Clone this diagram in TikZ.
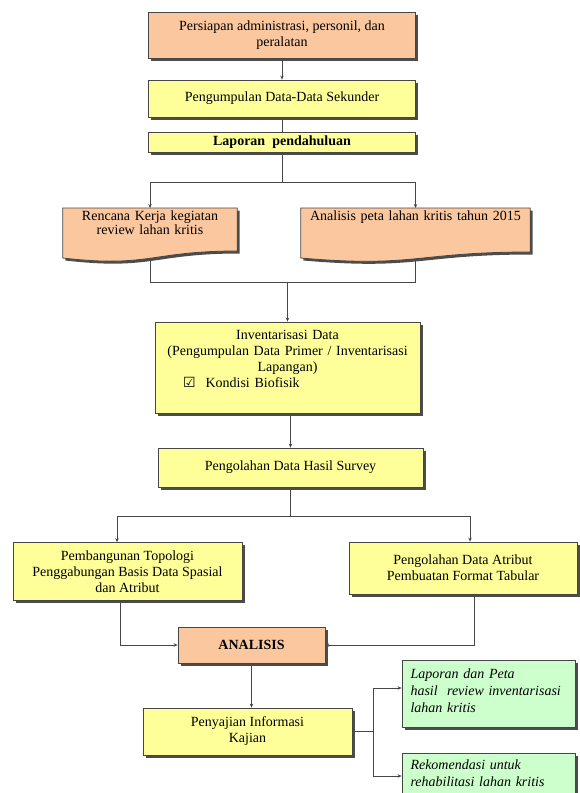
\documentclass[tikz,border=0pt]{standalone}
\usepackage{fontspec}
\setmainfont{Liberation Serif}
\newfontfamily\symfont{DejaVu Sans}
\usetikzlibrary{calc,shadows,arrows.meta}
\pgfdeclarelayer{edgelayer}
\pgfdeclarelayer{shapelayer}
\pgfdeclarelayer{nodelayer}
\pgfsetlayers{edgelayer,shapelayer,nodelayer,main}
\definecolor{peach}{RGB}{250,199,158}
\definecolor{lemon}{RGB}{255,255,153}
\definecolor{mint}{RGB}{204,255,204}
\definecolor{rim}{RGB}{70,70,70}
\tikzstyle{edge}=[draw=rim, line width=0.8pt]
\tikzstyle{arrow}=[edge, -{Stealth[length=4pt,width=3.5pt]}]
\tikzstyle{shade}=[drop shadow={shadow xshift=2.5pt, shadow yshift=-2.5pt, fill=black!70, opacity=1}]
\tikzstyle{box}=[rectangle, draw=rim, line width=0.8pt, align=center, inner sep=2pt, font=\fontsize{14}{16}\selectfont, shade]
\tikzstyle{orangebox}=[box, fill=peach]
\tikzstyle{yellowbox}=[box, fill=lemon]
\tikzstyle{greenbox}=[box, fill=mint, align=left, inner xsep=8.5pt, text width=156pt, font=\itshape\fontsize{14}{17}\selectfont]
\tikzstyle{doctext}=[inner xsep=4pt, inner ysep=3pt, align=center, anchor=north, font=\fontsize{14}{13.5}\selectfont]
\tikzstyle{docshape}=[draw=rim, line width=0.8pt, fill=peach, shade]

\begin{document}
\begin{tikzpicture}[x=1pt, y=-1pt]
	\useasboundingbox (0,0) rectangle (580,793);
	\begin{pgfonlayer}{nodelayer}
		\node [style=orangebox, minimum width=267pt, minimum height=46pt] (0) at (282, 35) {Persiapan administrasi, personil, dan\\peralatan};
		\node [style=yellowbox, minimum width=267pt, minimum height=37pt] (1) at (282, 98.5) {Pengumpulan Data-Data Sekunder};
		\node [style=yellowbox, minimum width=267pt, minimum height=20pt, font=\bfseries\fontsize{14}{16}\selectfont] (2) at (282, 142) {Laporan~ pendahuluan};
		\node [style=doctext, text width=166pt] (3) at (150, 208) {Rencana Kerja kegiatan\\review lahan kritis};
		\node [style=doctext, text width=221pt] (4) at (415.5, 208) {Analisis peta lahan kritis tahun 2015};
		\node [style=yellowbox, minimum width=265pt, minimum height=91pt, text width=255pt] (5) at (287.5, 367.5) {Inventarisasi Data\\(Pengumpulan Data Primer / Inventarisasi\\Lapangan)\par\hbox to 255pt{\hspace*{23pt}{\symfont ☑}\hspace{10pt}Kondisi Biofisik\rule[-18pt]{0pt}{18pt}\hfil}};
		\node [style=yellowbox, minimum width=265pt, minimum height=39pt] (6) at (290.5, 467.5) {Pengolahan Data Hasil Survey};
		\node [style=yellowbox, minimum width=229pt, minimum height=58pt] (7) at (127.5, 571.5) {Pembangunan Topologi\\Penggabungan Basis Data Spasial\\dan Atribut};
		\node [style=yellowbox, minimum width=228pt, minimum height=52pt] (8) at (463, 568) {Pengolahan Data Atribut\\Pembuatan Format Tabular};
		\node [style=orangebox, minimum width=147pt, minimum height=36pt, font=\bfseries\fontsize{14}{16}\selectfont] (9) at (251.5, 645) {ANALISIS};
		\node [style=yellowbox, minimum width=209pt, minimum height=47pt] (10) at (247.5, 731.5) {Penyajian Informasi\\Kajian};
		\node [style=greenbox, minimum height=67pt] (11) at (488.5, 693.5) {Laporan dan Peta\\hasil~ review inventarisasi\\lahan kritis\rule[-6pt]{0pt}{6pt}};
		\node [style=greenbox, anchor=north, inner ysep=6pt] (12) at (488.5, 753) {Rekomendasi untuk\\rehabilitasi lahan kritis\rule[-20pt]{0pt}{20pt}};
	\end{pgfonlayer}
	\begin{pgfonlayer}{shapelayer}
		\draw [style=docshape] (3.north west) -- (3.north east) -- ++(0,43) .. controls +(-87,0) and +(87,10) .. ($(3.north west)+(0,50)$) -- cycle;
		\draw [style=docshape] (4.north west) -- (4.north east) -- ++(0,44) .. controls +(-115,0) and +(115,10) .. ($(4.north west)+(0,50)$) -- cycle;
	\end{pgfonlayer}
	\begin{pgfonlayer}{edgelayer}
		\coordinate (b1) at (282, 182);
		\coordinate (j1) at (287.5, 282);
		\coordinate (c1) at (117, 516);
		\coordinate (c2) at (470, 516);
		\coordinate (d1) at (120, 645);
		\coordinate (d2) at (474, 645);
		\coordinate (e1) at (373, 688);
		\coordinate (e2) at (373, 776);
		\draw [style=arrow] (0) to (1);
		\draw [style=edge] (1) to (2);
		\draw [style=edge] (2) to (b1);
		\draw [style=arrow] (b1) -| (3);
		\draw [style=arrow] (b1) -| (4);
		\draw [style=edge] (3) |- (j1);
		\draw [style=edge] (4) |- (j1);
		\draw [style=arrow] (j1) to (5);
		\draw [style=arrow] (5.south -| 6) to (6);
		\draw [style=edge] (6) to (6 |- c1);
		\draw [style=arrow] (6 |- c1) -- (c1) -- (c1 |- 7.north);
		\draw [style=arrow] (6 |- c1) -- (c2) -- (c2 |- 8.north);
		\draw [style=arrow] (7.south -| d1) |- (9);
		\draw [style=arrow] (8.south -| d2) |- (9);
		\draw [style=arrow] (9) to (9 |- 10.north);
		\draw [style=edge] (10) to (10 -| e1);
		\draw [style=edge] (e1) to (e2);
		\draw [style=arrow] (e1) to (e1 -| 11.west);
		\draw [style=arrow] (e2) to (e2 -| 12.west);
	\end{pgfonlayer}
\end{tikzpicture}
\end{document}
